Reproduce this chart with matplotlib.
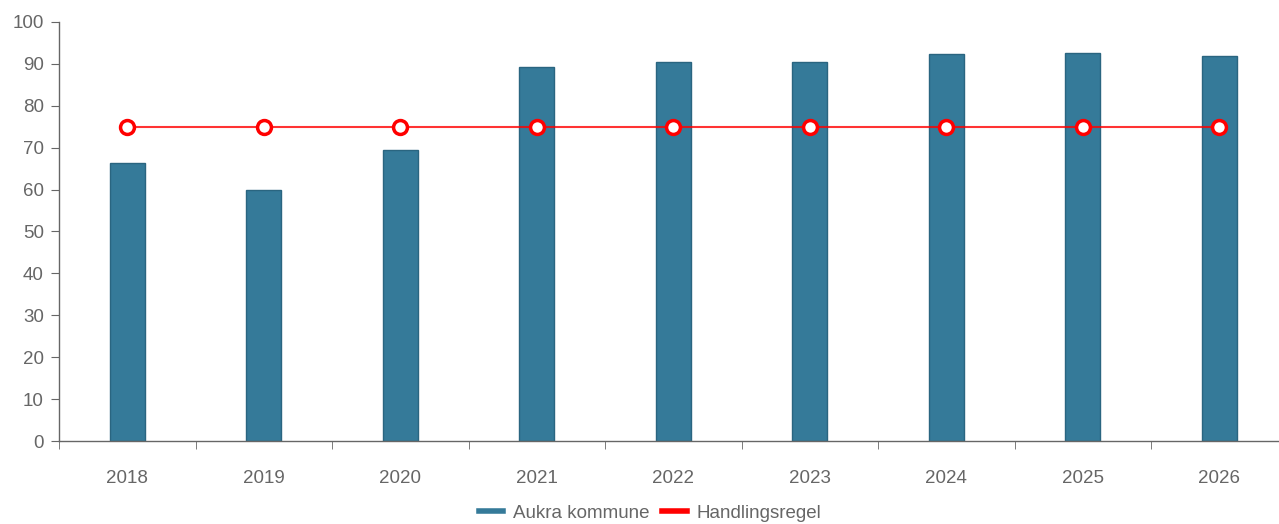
import matplotlib.pyplot as plt
from matplotlib.lines import Line2D

years = ["2018", "2019", "2020", "2021", "2022", "2023", "2024", "2025", "2026"]
aukra = [66.3, 59.9, 69.4, 89.3, 90.5, 90.5, 92.4, 92.6, 91.9]
handlingsregel = [75, 75, 75, 75, 75, 75, 75, 75, 75]

plt.rcParams['font.family'] = ['Liberation Sans', 'DejaVu Sans']
grey = "#666666"

fig = plt.figure(figsize=(12.79, 5.24), dpi=100)
ax = fig.add_axes([59 / 1279, 1 - 441 / 524, 1 - 59 / 1279, (441 - 22) / 524])

x = list(range(len(years)))
ax.bar(x, aukra, width=0.256, color="#357a99", edgecolor="#2a6580", linewidth=1, zorder=2)
ax.plot(x, handlingsregel, color="#ff0000", linewidth=1.5, alpha=0.8, zorder=3)
ax.plot(x, handlingsregel, linestyle="none", marker="o", markersize=10,
        markerfacecolor="white", markeredgecolor="#ff0000", markeredgewidth=2.5, zorder=4)

ax.set_yticks(range(0, 101, 10))

# category labels centred, tick marks on the boundaries
ax.set_xticks(x)
ax.set_xticklabels(years)
ax.set_xticks([i - 0.5 for i in range(len(years) + 1)], minor=True)
ax.tick_params(axis="x", which="major", length=0, pad=21, labelsize=13.5, labelcolor=grey)
ax.tick_params(axis="x", which="minor", length=6, color=grey, direction="out")
ax.tick_params(axis="y", length=6, color=grey, pad=5, labelsize=13.5, labelcolor=grey)

# limits after the ticks, so the minor ticks don't widen the view
ax.set_ylim(0, 100)
ax.set_xlim(-0.5, -0.5 + (1279 - 59) / 136.5)

for side in ["top", "right"]:
    ax.spines[side].set_visible(False)
for side in ["left", "bottom"]:
    ax.spines[side].set_color(grey)
    ax.spines[side].set_linewidth(1)

handles = [Line2D([], [], color="#357a99", linewidth=4),
           Line2D([], [], color="#ff0000", linewidth=4)]
fig.legend(handles, ["Aukra kommune", "Handlingsregel"], loc="center",
           bbox_to_anchor=(650 / 1279, 1 - 513 / 524), ncol=2, frameon=False,
           fontsize=13.5, labelcolor=grey, handlelength=1.3, handletextpad=0.5,
           columnspacing=0.7)

fig.savefig("out.png", dpi=100)
